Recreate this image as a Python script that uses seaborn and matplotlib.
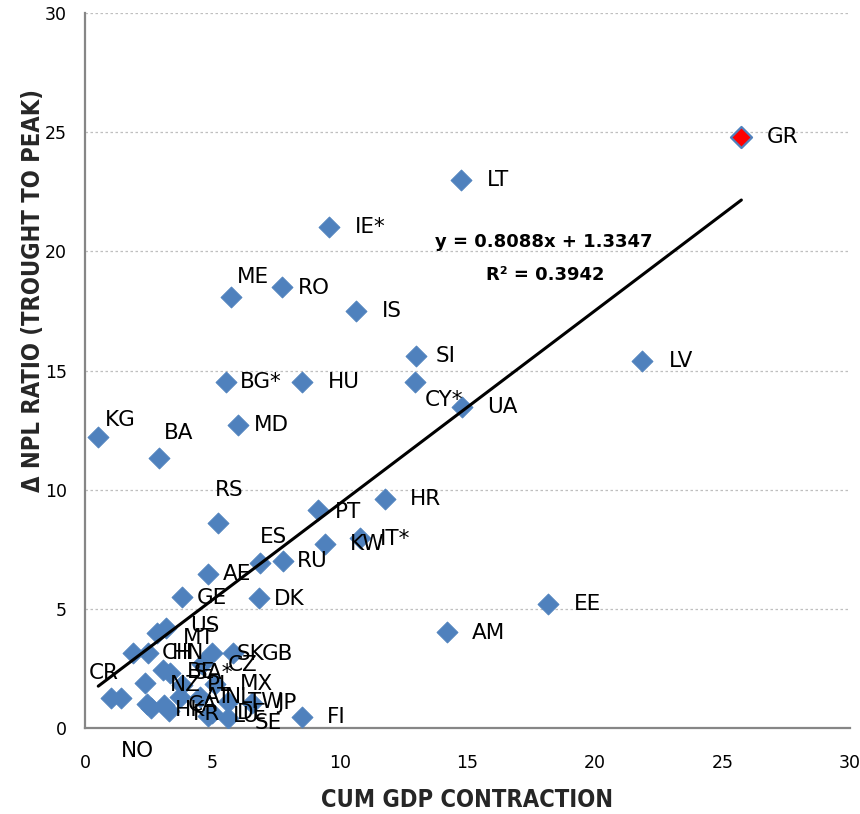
import matplotlib
matplotlib.use("Agg")
import matplotlib.pyplot as plt
import seaborn as sns
import pandas as pd

# Cumulative GDP contraction vs. change in NPL ratio (trough to peak), by country
countries = [
    "GR", "LT", "IE*", "ME", "RO", "IS", "SI", "LV", "BG*", "HU", "CY*", "UA",
    "MD", "KG", "BA", "HR", "PT", "RS", "IT*", "KW", "RU", "ES", "AE", "DK",
    "GE", "EE", "AM", "FI",
    "CR", "", "CH", "HN", "MT", "US", "SK", "GB", "CZ", "BE", "SA*", "NZ",
    "PL", "MX", "AT", "NL", "TW", "JP", "HK", "CA", "FR", "LU", "DE", "SE", "NO",
]
gdp_contraction = [
    25.74, 14.75, 9.57, 5.71, 7.71, 10.63, 12.98, 21.86, 5.52, 8.50, 12.94, 14.77,
    5.99, 0.52, 2.92, 11.76, 9.15, 5.20, 10.78, 9.41, 7.78, 6.86, 4.81, 6.82,
    3.82, 18.16, 14.20, 8.50,
    1.00, 1.40, 1.90, 2.47, 2.82, 3.18, 4.97, 5.82, 4.60, 3.06, 3.35, 2.35,
    3.80, 5.10, 3.73, 4.50, 5.60, 6.55, 2.60, 3.10, 3.30, 4.82, 4.98, 5.60, 2.45,
]
npl_change = [
    24.80, 23.00, 21.02, 18.10, 18.52, 17.51, 15.61, 15.41, 14.53, 14.53, 14.53, 13.48,
    12.71, 12.22, 11.32, 9.60, 9.15, 8.62, 7.97, 7.72, 7.02, 6.91, 6.45, 5.44,
    5.51, 5.20, 4.03, 0.46,
    1.25, 1.25, 3.15, 3.15, 3.99, 4.20, 3.13, 3.13, 2.70, 2.43, 2.30, 1.89,
    1.80, 1.85, 1.30, 1.30, 1.10, 1.05, 0.85, 0.95, 0.70, 0.50, 0.63, 0.40, 1.00,
]
highlight = "GR"

# Label placement relative to each marker, in pixels (right, down)
label_dx = [
    25, 26, 26, 6, 16, 26, 20, 26, 14, 26, 10, 25,
    16, 7, 4, 25, 17, -3, 20, 25, 13, 0, 15, 15,
    14, 26, 25, 25,
    -22, 0, 28, 24, 26, 24, 25, 28, 25, 24, 23, 25,
    25, 25, 25, 25, 20, 25, 24, 24, 24, 25, 25, 27, -27,
]
label_dy = [
    0, 0, 0, -20, 1, 0, 0, 0, 0, 0, 18, 0,
    0, -17, -25, 0, 2, -33, 1, 0, 0, -26, 0, 1,
    1, 0, 1, 0,
    -25, 0, 0, 0, 5, -2, 1, 1, 1, 2, 0, 2,
    0, 0, 0, 0, 0, 0, 2, 0, 3, 0, 0, 5, 47,
]

# Linear trend reported on the chart
slope, intercept, r_squared = 0.8088, 1.3347, 0.3942

sns.set_theme(style="white")
plt.rcParams["font.family"] = ["DejaVu Sans"]

df = pd.DataFrame({"country": countries, "gdp": gdp_contraction, "npl": npl_change})
df["is_highlight"] = df["country"] == highlight

fig = plt.figure(figsize=(8.6, 8.14), dpi=100)
ax = fig.add_axes([85 / 860, 1 - 728 / 814, 765 / 860, 715 / 814])

blue = "#4F81BD"
sns.scatterplot(data=df[~df["is_highlight"]], x="gdp", y="npl", marker="D", s=115,
                color=blue, edgecolor=blue, linewidth=0.6, ax=ax, zorder=3, legend=False)
sns.scatterplot(data=df[df["is_highlight"]], x="gdp", y="npl", marker="D", s=115,
                color="#FF0000", edgecolor=blue, linewidth=1.6, ax=ax, zorder=4, legend=False)

# Trend line over the observed range
x_ends = [df["gdp"].min(), df["gdp"].max()]
trend = pd.DataFrame({"x": x_ends, "y": [slope * v + intercept for v in x_ends]})
sns.lineplot(data=trend, x="x", y="y", color="black", linewidth=2.2, ax=ax, zorder=5)

for name, x, y, dx, dy in zip(countries, gdp_contraction, npl_change, label_dx, label_dy):
    if name:
        ax.annotate(name, (x, y), xytext=(dx * 0.72, -dy * 0.72), textcoords="offset points",
                    ha="left", va="center", fontsize=15.5, color="black", zorder=6)

ax.text(18.0, 20.4, f"y = {slope:.4f}x + {intercept:.4f}", ha="center", va="center",
        fontsize=13, fontweight="bold", color="black", zorder=6)
ax.text(18.05, 19.0, f"R² = {r_squared:.4f}", ha="center", va="center",
        fontsize=13, fontweight="bold", color="black", zorder=6)

ax.set_xlim(0, 30)
ax.set_ylim(0, 30)
ax.set_xticks(range(0, 31, 5))
ax.set_yticks(range(0, 31, 5))

ax.yaxis.grid(True, linestyle=(0, (2, 2)), color="#BFBFBF", linewidth=0.9)
ax.xaxis.grid(False)
ax.set_axisbelow(True)

for side in ["top", "right"]:
    ax.spines[side].set_visible(False)
for side in ["left", "bottom"]:
    ax.spines[side].set_color("#868686")
    ax.spines[side].set_linewidth(1.6)

ax.tick_params(axis="both", which="major", direction="out", length=6, width=1.3,
               color="#868686", labelsize=12.5, labelcolor="black")
ax.tick_params(axis="y", pad=7)
ax.tick_params(axis="x", pad=13)

ax.set_xlabel("CUM GDP CONTRACTION", fontsize=17, fontweight="bold", fontstretch="condensed")
ax.set_ylabel("Δ NPL RATIO (TROUGHT TO PEAK)", fontsize=17, fontweight="bold",
              fontstretch="condensed")
ax.xaxis.set_label_coords(0.5, (728 - 800) / 715)
ax.xaxis.label.set_va("center")
ax.yaxis.set_label_coords((33 - 85) / 765, (728 - 290) / 715)
ax.yaxis.label.set_va("center")

fig.savefig("out.png", dpi=100)
